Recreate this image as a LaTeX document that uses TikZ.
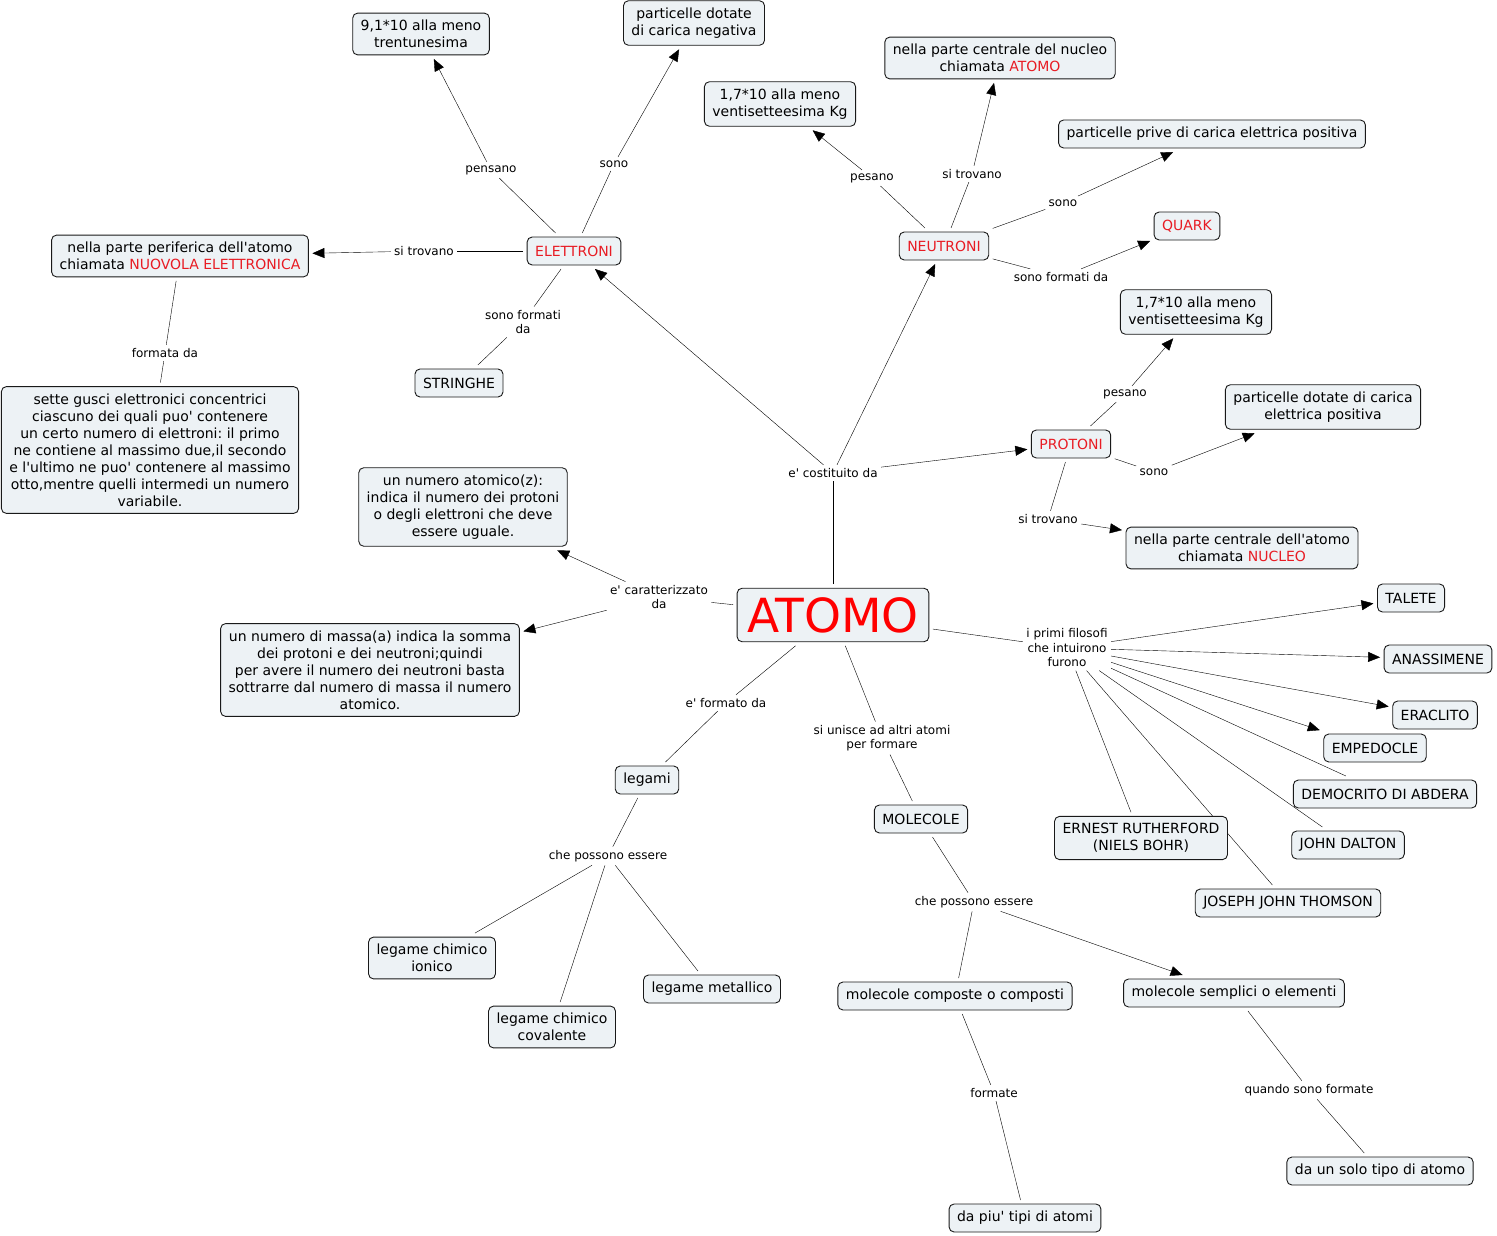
\documentclass[tikz,border=0pt]{standalone}
\usepackage{fontspec}
\setmainfont{DejaVu Sans}[Ligatures=TeXOff]
\usepackage{xcolor}
\usetikzlibrary{arrows.meta,backgrounds,positioning}
\definecolor{cmapfill}{RGB}{237,242,245}
\definecolor{cmapred}{RGB}{232,28,36}
\frenchspacing

\begin{document}
\begin{tikzpicture}[x=1pt, y=-1pt, line width=1pt,
    >={Triangle[length=12pt,width=10pt]},
    concept/.style={draw=black!90, fill=cmapfill, rounded corners=5pt, align=center,
        font=\fontsize{14}{17}\selectfont, inner xsep=8pt, inner ysep=7pt,
        minimum height=28pt, outer sep=4pt, line width=0.9pt},
    keyword/.style={concept, text=cmapred},
    linklabel/.style={align=center, font=\fontsize{12}{14.5}\selectfont, inner sep=1.5pt, outer sep=2pt}]
    \useasboundingbox (0,0) rectangle (1497,1236);

    % Central concept
    \node[keyword, font=\fontsize{47}{50}\selectfont, text=red, inner xsep=10pt, inner ysep=9pt,
        minimum height=53pt] (atomo) at (833,615) {ATOMO};

    % Elettroni
    \node[keyword] (elettroni) at (574,251) {ELETTRONI};
    \node[concept] (massael) at (421,34) {9,1*10 alla meno\\trentunesima};
    \node[concept] (caricaneg) at (694,23) {particelle dotate\\di carica negativa};
    \node[concept] (periferia) at (180,256) {nella parte periferica dell'atomo\\chiamata \textcolor{cmapred}{NUOVOLA ELETTRONICA}};
    \node[concept] (stringhe) at (459,383) {STRINGHE};
    \node[concept] (gusci) at (150,450) {sette gusci elettronici concentrici\\ciascuno dei quali puo' contenere\\un certo numero di elettroni: il primo\\ne contiene al massimo due,il secondo\\e l'ultimo ne puo' contenere al massimo\\otto,mentre quelli intermedi un numero\\variabile.};

    % Neutroni
    \node[keyword] (neutroni) at (944,246) {NEUTRONI};
    \node[concept] (massaneu) at (780,104) {1,7*10 alla meno\\ventisetteesima Kg};
    \node[concept] (centroneu) at (1000,58) {nella parte centrale del nucleo\\chiamata \textcolor{cmapred}{ATOMO}};
    \node[concept] (privecar) at (1212,134) {particelle prive di carica elettrica positiva};
    \node[keyword] (quark) at (1187,226) {QUARK};

    % Protoni
    \node[keyword] (protoni) at (1071,444) {PROTONI};
    \node[concept] (massapro) at (1196,312) {1,7*10 alla meno\\ventisetteesima Kg};
    \node[concept] (caricapos) at (1323,407) {particelle dotate di carica\\elettrica positiva};
    \node[concept] (nucleo) at (1242,548) {nella parte centrale dell'atomo\\chiamata \textcolor{cmapred}{NUCLEO}};

    % Numeri
    \node[concept] (numatomico) at (463,507) {un numero atomico(z):\\indica il numero dei protoni\\o degli elettroni che deve\\essere uguale.};
    \node[concept] (nummassa) at (370,670) {un numero di massa(a) indica la somma\\dei protoni e dei neutroni;quindi\\per avere il numero dei neutroni basta\\sottrarre dal numero di massa il numero\\atomico.};

    % Filosofi
    \node[concept] (talete) at (1411,598) {TALETE};
    \node[concept] (anassimene) at (1438,659) {ANASSIMENE};
    \node[concept] (eraclito) at (1435,715) {ERACLITO};
    \node[concept] (empedocle) at (1375,748) {EMPEDOCLE};
    \node[concept] (democrito) at (1385,794) {DEMOCRITO DI ABDERA};
    \node[concept] (dalton) at (1348,845) {JOHN DALTON};
    \node[concept] (rutherford) at (1141,838) {ERNEST RUTHERFORD\\(NIELS BOHR)};
    \node[concept] (thomson) at (1288,903) {JOSEPH JOHN THOMSON};

    % Legami e molecole
    \node[concept] (legami) at (647,780) {legami};
    \node[concept] (ionico) at (432,958) {legame chimico\\ionico};
    \node[concept] (covalente) at (552,1027) {legame chimico\\covalente};
    \node[concept] (metallico) at (712,989) {legame metallico};
    \node[concept] (molecole) at (921,819) {MOLECOLE};
    \node[concept] (composte) at (955,996) {molecole composte o composti};
    \node[concept] (semplici) at (1234,993) {molecole semplici o elementi};
    \node[concept] (piutipi) at (1025,1218) {da piu' tipi di atomi};
    \node[concept] (solotipo) at (1380,1171) {da un solo tipo di atomo};

    % Link labels
    \node[linklabel] (lpensano) at (491,170) {pensano};
    \node[linklabel] (lsonoel) at (614,164) {sono};
    \node[linklabel] (ltrovael) at (424,251) {si trovano};
    \node[linklabel] (lformel) at (523,322) {sono formati\\da};
    \node[linklabel] (lformata) at (165,353) {formata da};
    \node[linklabel] (lcostituito) at (833,473) {e' costituito da};
    \node[linklabel] (lpesaneu) at (872,178) {pesano};
    \node[linklabel] (ltrovaneu) at (972,174) {si trovano};
    \node[linklabel] (lsononeu) at (1063,203) {sono};
    \node[linklabel] (lformneu) at (1061,277) {sono formati da};
    \node[linklabel] (lpesapro) at (1125,394) {pesano};
    \node[linklabel] (lsonopro) at (1154,472) {sono};
    \node[linklabel] (ltrovapro) at (1048,519) {si trovano};
    \node[linklabel] (lcaratt) at (659,597) {e' caratterizzato\\da};
    \node[linklabel] (lfilosofi) at (1067,648) {i primi filosofi\\che intuirono\\furono};
    \node[linklabel] (lformato) at (726,703) {e' formato da};
    \node[linklabel] (lunisce) at (882,738) {si unisce ad altri atomi\\per formare};
    \node[linklabel] (lpossleg) at (608,856) {che possono essere};
    \node[linklabel] (lpossmol) at (974,902) {che possono essere};
    \node[linklabel] (lformate) at (994,1093) {formate};
    \node[linklabel] (lquando) at (1309,1090) {quando sono formate};

    % Connectors (under the boxes)
    \begin{scope}[on background layer]
        \draw (elettroni) -- (lpensano);
        \draw[->] (lpensano) -- (massael);
        \draw (elettroni) -- (lsonoel);
        \draw[->] (lsonoel) -- (caricaneg);
        \draw (elettroni) -- (ltrovael);
        \draw[->] (ltrovael) -- (periferia);
        \draw (elettroni) -- (lformel);
        \draw (lformel) -- (stringhe);
        \draw (periferia) -- (lformata);
        \draw (lformata) -- (gusci);

        \draw (atomo) -- (lcostituito);
        \foreach \t in {elettroni,neutroni,protoni}
            \draw[->] (lcostituito) -- (\t);

        \draw (neutroni) -- (lpesaneu);
        \draw[->] (lpesaneu) -- (massaneu);
        \draw (neutroni) -- (ltrovaneu);
        \draw[->] (ltrovaneu) -- (centroneu);
        \draw (neutroni) -- (lsononeu);
        \draw[->] (lsononeu) -- (privecar);
        \draw (neutroni) -- (lformneu);
        \draw[->] (lformneu) -- (quark);

        \draw (protoni) -- (lpesapro);
        \draw[->] (lpesapro) -- (massapro);
        \draw (protoni) -- (lsonopro);
        \draw[->] (lsonopro) -- (caricapos);
        \draw (protoni) -- (ltrovapro);
        \draw[->] (ltrovapro) -- (nucleo);

        \draw (atomo) -- (lcaratt);
        \draw[->] (lcaratt) -- (numatomico);
        \draw[->] (lcaratt) -- (nummassa);

        \draw (atomo) -- (lfilosofi);
        \foreach \t in {talete,anassimene,eraclito,empedocle}
            \draw[->] (lfilosofi) -- (\t);
        \foreach \t in {democrito,dalton,rutherford,thomson}
            \draw (lfilosofi) -- (\t);

        \draw (atomo) -- (lformato);
        \draw (lformato) -- (legami);
        \draw (legami) -- (lpossleg);
        \foreach \t in {ionico,covalente,metallico}
            \draw (lpossleg) -- (\t);

        \draw (atomo) -- (lunisce);
        \draw (lunisce) -- (molecole);
        \draw (molecole) -- (lpossmol);
        \draw (lpossmol) -- (composte);
        \draw[->] (lpossmol) -- (semplici);
        \draw (composte) -- (lformate);
        \draw (lformate) -- (piutipi);
        \draw (semplici) -- (lquando);
        \draw (lquando) -- (solotipo);
    \end{scope}
\end{tikzpicture}
\end{document}
